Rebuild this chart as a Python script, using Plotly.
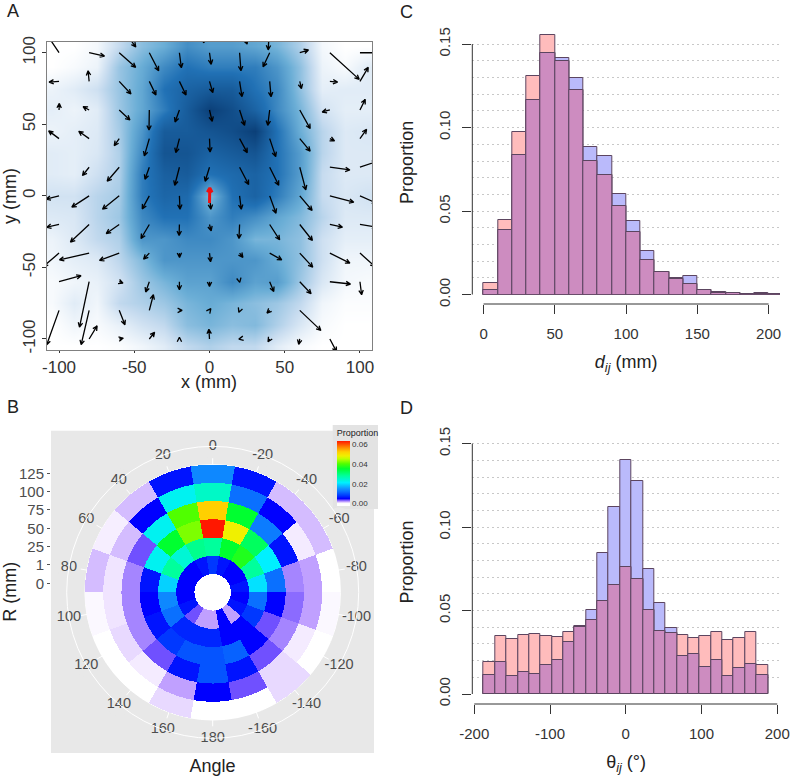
import math
import plotly.graph_objects as go

W, H = 792, 782

# ---------- Panel A data ----------
dens_x = [-105, -90, -75, -60, -45, -30, -15, 0, 15, 30, 45, 60, 75, 90, 105]
dens_y = [105, 90, 75, 60, 45, 30, 15, 0, -15, -30, -45, -60, -75, -90, -105]
dens_z = [
    [0, 0, .03, .15, .28, .35, .48, .42, .42, .38, .32, .2, .03, 0, 0],
    [0, .02, .05, .25, .36, .5, .6, .55, .55, .55, .45, .27, .05, .02, .08],
    [.05, .08, .13, .25, .38, .6, .7, .75, .75, .6, .5, .27, .07, .08, .08],
    [.07, .05, .08, .24, .38, .55, .75, .95, .85, .7, .5, .32, .12, .07, .07],
    [.05, .07, .09, .22, .45, .75, .75, .8, .85, .95, .6, .35, .18, .09, .1],
    [.08, .07, .1, .2, .5, .8, .8, .7, .75, .8, .6, .42, .18, .09, .09],
    [.08, .07, .13, .2, .55, .72, .75, .6, .65, .7, .6, .42, .15, .09, .09],
    [.12, .12, .18, .22, .55, .68, .65, .3, .6, .7, .55, .38, .15, .1, .12],
    [.09, .1, .18, .24, .5, .6, .6, .45, .55, .48, .38, .3, .18, .09, .09],
    [.05, .09, .16, .2, .45, .45, .5, .5, .45, .32, .32, .27, .13, .07, .07],
    [.04, .07, .09, .17, .3, .45, .45, .45, .45, .45, .36, .27, .13, .04, .04],
    [.02, .04, .06, .12, .24, .32, .4, .4, .5, .4, .42, .24, .1, .03, .02],
    [.02, .08, .04, .16, .2, .24, .32, .36, .32, .28, .24, .16, .04, .01, .01],
    [0, .04, .02, .06, .12, .16, .28, .32, .28, .3, .2, .1, .02, 0, 0],
    [0, 0, 0, .01, .04, .08, .16, .2, .16, .16, .08, .02, 0, 0, 0],
]

arrow_x = [-100, -80, -60, -40, -20, 0, 20, 40, 60, 80, 100]
arrow_y = [120, 100, 80, 60, 40, 20, 0, -20, -40, -60, -80, -100]
arrow_dx = [
    [0, 0, 11, 0, 0, -4, 5, -1, 0, 0, 0],
    [-7, 10.2, 10.9, 6.2, 1.3, 1.1, 0.9, -4.4, 5.8, 19.5, 13.3],
    [-6.6, -0.7, 7.8, 4.4, 4.4, 2.2, 1.6, 0.9, 1.1, 5.1, 5.5],
    [0.2, -4, 7.1, -0.2, -2.9, 1.8, 3.3, -1.3, 6.9, -5.1, 3.5],
    [-6.9, -6.9, -3.3, -3.3, -2.4, 0.4, 5.1, 4, 6.9, 3.1, 4.4],
    [0, -4.4, -8, -2.9, -3.1, -2.9, 6, 6, 4, 13.3, 11.1],
    [-8.6, -11.5, -11.1, -4.7, 0.4, 0.9, 1.1, 4.2, 8.2, 15.9, 11.1],
    [-8.2, -12.4, -8.6, -5.5, -0.2, 1.1, -0.4, 6.6, 8.4, 8.4, 11.1],
    [-10.4, -19.7, -13.1, -3.8, 0.1, 0.7, 2.2, 8, 8.6, 13.3, 10],
    [14.6, -6.4, 2.5, -2.4, 0, 0, 0.1, 2.7, 7.5, 13.7, 1.1],
    [-8.2, -5.3, 3.8, 2.7, 1.8, 0.9, -0.5, -1.8, 14, 0, 0],
    [0, 5.3, 2.7, 3.5, 0, -0.4, -0.5, -1.1, -0.7, 4.4, 0],
]
arrow_dy = [
    [0, 0, -16, 0, 0, -13, -14, -18, 0, 0, 0],
    [11, -2.3, -10.2, -12.6, -10.5, -8.1, -12.6, -9.8, 1.9, -18.6, 0],
    [-0.5, 7.4, -8.8, -9.5, -9.5, -7.9, -10.7, -10.7, -5.1, -0.5, 9.8],
    [4.6, 2.3, -7, -14, -8.4, -7.9, -10.7, -10.7, -13, -1.4, 7.4],
    [5.4, 5.1, -4.9, -12.1, -9.8, -9.3, -9.8, -12.6, -8.8, -1.6, 6.5],
    [0, -5.8, -9.8, -8.4, -12.6, -9.8, -12.1, -12.6, -15.8, -1.9, 4],
    [-2.3, -7.9, -9.3, -9.1, -9.3, -9.3, -9.3, -12.1, -10.2, -4.4, -5.1],
    [-1.9, -12.3, -6.3, -9.8, -7.7, -4.4, -9.8, -10.7, -11.2, -1.9, -1.9],
    [-9.3, -4.7, -5.1, -4.2, -3, -6, -3, -4.7, -9.8, -7, -9.3],
    [4.2, -31.7, -1, -7.2, -5.6, -3.3, -0.5, -6.8, -8.4, -1.6, -9.1],
    [-24, -24, -10, 10.9, 0, 1.2, -1.4, -1.9, -14, 0, 0],
    [0, 9.1, 0.5, 4.7, 1.2, 6.8, -0.1, -1.9, -3.7, -8.8, 0],
]
focal_x, focal_y, focal_dx, focal_dy = 0, -5, 0.2, 10.5

# ---------- Panel B data ----------
angles = [0, 20, 40, 60, 80, 100, 120, 140, 160, 180, -160, -140, -120, -100, -80, -60, -40, -20]
radial_ticks = ["0", "1", "25", "50", "75", "100", "125"]
ring1 = [.008, .006, .005, .005, .005, .005, .006, .0035, .002, .002, .005, .002, .006, .005, .006, .005, .005, .006]
ring2 = [.028, .029, .024, .028, .019, .014, .012, .007, .007, .007, .005, .005, .008, .012, .02, .028, .037, .035]
ring3 = [.063, .042, .035, .022, .006, .005, .006, .008, .010, .010, .011, .005, .0035, .005, .012, .021, .032, .048]
ring4 = [.052, .04, .022, .0035, .0025, .0025, .0025, .0035, .006, .010, .006, .0035, .0025, .003, .0025, .006, .013, .035]
ring5 = [.025, .022, .005, .0015, .0008, .0008, .001, .0006, .002, .005, .0035, .001, .0006, .002, .002, .0006, .005, .012]
ring6 = [.014, .006, .0015, .0005, .0015, .0002, 0, 0, .001, 0, 0, .001, 0, .0002, 0, .0015, .0015, .006]
rings = [ring1, ring2, ring3, ring4, ring5, ring6]

# ---------- Panel C data ----------
dist_bins = [5, 15, 25, 35, 45, 55, 65, 75, 85, 95, 105, 115, 125, 135, 145, 155, 165, 175, 185, 195, 205]
dist_red = [.007, .045, .0975, .1307, .1554, .1398, .1223, .0802, .0718, .0533, .0373, .0205, .0138, .0092, .0064, .0028, .001, .0008, .0005, .0005, .0004]
dist_blue = [.0026, .0385, .0834, .1165, .1444, .1416, .1295, .0886, .083, .06, .0443, .026, .0134, .0098, .011, .003, .0014, .0012, .0006, .0008, .0004]

# ---------- Panel D data ----------
ang_bins = [-180, -165, -150, -135, -120, -105, -90, -75, -60, -45, -30, -15, 0, 15, 30, 45, 60, 75, 90, 105, 120, 135, 150, 165, 180]
ang_red = [.0192, .0346, .0328, .0353, .0357, .035, .0344, .037, .0401, .0443, .0555, .0651, .0761, .0691, .0501, .038, .0363, .0355, .0338, .0345, .0373, .0325, .0338, .037, .0176]
ang_blue = [.0114, .0194, .011, .013, .0122, .0176, .0204, .031, .0405, .0505, .0845, .112, .14, .1278, .0747, .0547, .0393, .023, .024, .0164, .0204, .0106, .0154, .018, .0114]

FONT = "Liberation Sans"
TXT = "#333333"
AXC = "#333333"
RED = "#ffbcbc"
BLUE = "#babafb"
BOTH = "#cd8cc0"
EDGE = "#5c4560"
GRID = "#c8c8c8"
DOTS = "2px,3px"
PANEL = "#e8e8e8"


def px(x):
    return x / W


def py(y):
    return 1 - y / H


fig = go.Figure()

# ---------- A ----------
fig.add_trace(go.Heatmap(
    x=dens_x, y=dens_y, z=dens_z, zsmooth="best", showscale=False, zmin=0, zmax=1,
    colorscale=[[0, "#ffffff"], [.15, "#c6dbef"], [.35, "#6baed6"], [.6, "#2171b5"], [1, "#08386f"]],
    xaxis="x", yaxis="y", hoverinfo="skip"))

XA = (47, 372)
YA = (42, 350)
RX = (-108, 108)
RY = (-107.7, 107.5)
sx = (XA[1] - XA[0]) / (RX[1] - RX[0])
sy = (YA[1] - YA[0]) / (RY[1] - RY[0])


def arrow_path(x, y, dx, dy, head=5.0, spread=26):
    tx, ty = x + dx, y + dy
    a = math.atan2(dy * sy, dx * sx)
    xs, ys = [x, tx], [y, ty]
    for s in (1, -1):
        b = a + math.pi + s * math.radians(spread)
        xs += [tx + head * math.cos(b) / sx, tx]
        ys += [ty + head * math.sin(b) / sy, ty]
    return xs + [None], ys + [None]


ax_all, ay_all = [], []
for j, yy in enumerate(arrow_y):
    for i, xx in enumerate(arrow_x):
        if arrow_dx[j][i] == 0 and arrow_dy[j][i] == 0:
            continue
        a, b = arrow_path(xx, yy, arrow_dx[j][i], arrow_dy[j][i])
        ax_all += a
        ay_all += b
fig.add_trace(go.Scatter(x=ax_all, y=ay_all, mode="lines", line=dict(color="black", width=1.3),
                         xaxis="x", yaxis="y", hoverinfo="skip", showlegend=False))
a, b = arrow_path(focal_x, focal_y, focal_dx, focal_dy, head=5, spread=28)
fig.add_trace(go.Scatter(x=a, y=b, mode="lines", line=dict(color="#ee1111", width=3),
                         xaxis="x", yaxis="y", hoverinfo="skip", showlegend=False))


# ---------- C, D ----------
def hist(xs, red, blue, width, ax, ay):
    both = [min(r, bl) for r, bl in zip(red, blue)]
    for ys, col in ((blue, BLUE), (red, RED), (both, BOTH)):
        fig.add_trace(go.Bar(x=xs, y=ys, width=width, marker=dict(color=col, line=dict(color=EDGE, width=1)),
                             xaxis=ax, yaxis=ay, showlegend=False))


hist(dist_bins, dist_red, dist_blue, 10, "x2", "y2")
hist(ang_bins, ang_red, ang_blue, 15, "x3", "y3")

# ---------- B ----------
vals, theta, base_r = [], [], []
for k, ring in enumerate(rings):
    for t, v in zip(angles, ring):
        vals.append(v)
        theta.append(t)
        base_r.append(k)

cmin, cmax = -.0024, .0629
stops = [(-.0024, "#ffffff"), (0, "#ffffff"), (.0008, "#f0e4ff"), (.002, "#c0a0ff"), (.0035, "#7050ff"),
         (.005, "#0000ff"), (.008, "#0038ff"), (.012, "#0a70ff"), (.015, "#1094ff"), (.021, "#00f0ff"),
         (.028, "#00ff9c"), (.035, "#00ff30"), (.04, "#50ff00"), (.045, "#c0ff00"), (.048, "#f0f000"),
         (.052, "#ffd000"), (.057, "#ff8000"), (.0629, "#ff1800")]
cscale = [[(v - cmin) / (cmax - cmin), c] for v, c in stops]

fig.add_trace(go.Barpolar(
    r=[1] * len(angles), theta=angles, base=[-1] * len(angles), width=[20] * len(angles),
    marker=dict(color="white", line=dict(width=0)), subplot="polar", hoverinfo="skip", showlegend=False))
fig.add_trace(go.Barpolar(
    r=[1] * len(vals), theta=theta, base=base_r, width=[20] * len(vals),
    marker=dict(color=vals, colorscale=cscale, cmin=cmin, cmax=cmax, line=dict(width=0),
                colorbar=dict(
                    x=px(336.7), xanchor="left", xpad=0, y=py(426), yanchor="top", ypad=0,
                    lenmode="pixels", len=79.5, thickness=13, outlinewidth=0,
                    tickvals=[0, .02, .04, .06], ticktext=["0.00", "0.02", "0.04", "0.06"], ticks="",
                    tickfont=dict(family=FONT, size=8, color="#333333"),
                    title=dict(text="Proportion", side="top", font=dict(family=FONT, size=9, color="#222222")))),
    subplot="polar", showlegend=False))
fig.add_trace(go.Scatterpolar(
    r=[7] * len(angles), theta=angles, text=[str(a) for a in angles], mode="markers+text",
    textposition="middle center", marker=dict(size=24, color=PANEL),
    textfont=dict(family=FONT, size=14.5, color="#4d4d4d", shadow="none"),
    subplot="polar", hoverinfo="skip", showlegend=False))

# placeholder so that the radial label axis is drawn
fig.add_trace(go.Scatter(x=[None], y=[None], xaxis="x4", yaxis="y4", showlegend=False, hoverinfo="skip"))

axis_common = dict(showgrid=False, zeroline=False, automargin=False)
tf17 = dict(family=FONT, size=17, color=TXT)
tf15 = dict(family=FONT, size=15, color=TXT)
tt18 = dict(family=FONT, size=18, color="#222222")

cx_dom = (472.3, 780)
minor_vals = [.01, .02, .03, .04, .06, .07, .08, .09, .11, .12, .13, .14]
layout = dict(
    width=W, height=H, margin=dict(l=0, r=0, t=0, b=0), autosize=False,
    paper_bgcolor="white", plot_bgcolor="white", barmode="overlay", bargap=0,
    font=dict(family=FONT), showlegend=False,
    xaxis=dict(domain=[px(XA[0]), px(XA[1])], range=list(RX), anchor="y", side="bottom",
               tickmode="array", tickvals=[-100, -50, 0, 50, 100], ticktext=["-100", "-50", "0", "50", "100"],
               ticks="outside", ticklen=2, tickcolor=AXC, tickfont=tf17, showline=True, mirror=True,
               linecolor="#808080", linewidth=1, **axis_common),
    yaxis=dict(domain=[py(YA[1]), py(YA[0])], range=list(RY), anchor="x",
               tickmode="array", tickvals=[-100, -50, 0, 50, 100], ticktext=["-100", "-50", "0", "50", "100"],
               ticks="outside", ticklen=4, tickcolor=AXC, tickfont=tf17, tickangle=-90, showline=True, mirror=True,
               linecolor="#808080", linewidth=1, title=dict(text="y (mm)", font=tt18, standoff=1), **axis_common),
    xaxis2=dict(domain=[px(cx_dom[0]), px(cx_dom[1])], range=[-7.9, 208], anchor="free", position=py(304),
                tickmode="array", tickvals=[0, 50, 100, 150, 200], ticks="outside", ticklen=9, tickcolor=AXC,
                tickfont=tf15, ticklabelstandoff=7, showline=False,
                title=dict(text="<i>d<sub>ij</sub></i> (mm)", font=tt18, standoff=14), **axis_common),
    yaxis2=dict(domain=[py(294.7), py(30)], range=[0, .1584], anchor="x2",
                tickmode="array", tickvals=[0, .05, .10, .15], ticktext=["0.00", "0.05", "0.10", "0.15"],
                ticks="outside", ticklen=9, tickcolor=AXC, tickfont=tf15, tickangle=-90, ticklabelstandoff=6,
                showline=False, zeroline=False, automargin=False, showgrid=True, gridcolor=GRID, griddash=DOTS,
                minor=dict(tickvals=minor_vals, showgrid=True, gridcolor=GRID, griddash=DOTS, ticklen=0, gridwidth=1),
                title=dict(text="Proportion", font=tt18, standoff=17)),
    xaxis3=dict(domain=[px(cx_dom[0]), px(cx_dom[1])], range=[-202.6, 203.6], anchor="free", position=py(704),
                tickmode="array", tickvals=[-200, -100, 0, 100, 200], ticktext=["-200", "-100", "0", "100", "200"],
                ticks="outside", ticklen=9, tickcolor=AXC, tickfont=tf15, ticklabelstandoff=7, showline=False,
                title=dict(text="θ<sub><i>ij</i></sub> (°)", font=tt18, standoff=14), **axis_common),
    yaxis3=dict(domain=[py(694), py(430)], range=[0, .1582], anchor="x3",
                tickmode="array", tickvals=[0, .05, .10, .15], ticktext=["0.00", "0.05", "0.10", "0.15"],
                ticks="outside", ticklen=9, tickcolor=AXC, tickfont=tf15, tickangle=-90, ticklabelstandoff=6,
                showline=False, zeroline=False, automargin=False, showgrid=True, gridcolor=GRID, griddash=DOTS,
                minor=dict(tickvals=minor_vals, showgrid=True, gridcolor=GRID, griddash=DOTS, ticklen=0, gridwidth=1),
                title=dict(text="Proportion", font=tt18, standoff=17)),
    xaxis4=dict(domain=[px(51), px(374)], range=[0, 1], anchor="y4", showticklabels=False, ticks="",
                showline=False, title=dict(text="Angle", font=tt18, standoff=6), **axis_common),
    yaxis4=dict(domain=[py(753), py(430.7)], range=[-9.26, 8.325], anchor="x4", tickmode="array",
                tickvals=list(range(len(radial_ticks))), ticktext=radial_ticks, ticks="outside", ticklen=3,
                tickcolor="#555555", tickfont=dict(family=FONT, size=15, color="#4d4d4d", shadow="none"), showline=False,
                title=dict(text="R (mm)", font=tt18, standoff=4), **axis_common),
    polar=dict(
        domain=dict(x=[px(212.7 - 146), px(212.7 + 146)], y=[py(592.3 + 146), py(592.3 - 146)]),
        bgcolor="rgba(0,0,0,0)", bargap=0, barmode="overlay",
        radialaxis=dict(range=[-1, 7], tickvals=[0, 1, 2, 3, 4, 5, 6, 7], showticklabels=False, ticks="",
                        showline=False, gridcolor="white", gridwidth=1),
        angularaxis=dict(rotation=90, direction="counterclockwise", tickvals=[a % 360 for a in angles],
                         showticklabels=False, ticks="", showline=True, linecolor="white", linewidth=1,
                         gridcolor="white", gridwidth=1)),
    shapes=[
        dict(type="rect", xref="paper", yref="paper", x0=px(51), x1=px(374), y0=py(753), y1=py(430.7),
             fillcolor=PANEL, line=dict(width=0), layer="below"),
        dict(type="rect", xref="paper", yref="paper", x0=px(332.7), x1=px(378), y0=py(509), y1=py(425),
             fillcolor="#e3e3e3", line=dict(width=0), layer="below"),
        dict(type="line", xref="x2 domain", yref="y2", x0=0, x1=0, y0=0, y1=.15, line=dict(color=AXC, width=1)),
        dict(type="line", xref="x3 domain", yref="y3", x0=0, x1=0, y0=0, y1=.15, line=dict(color=AXC, width=1)),
        dict(type="line", xref="x2", yref="paper", x0=0, x1=200, y0=py(304), y1=py(304), line=dict(color=AXC, width=1)),
        dict(type="line", xref="x3", yref="paper", x0=-200, x1=200, y0=py(704), y1=py(704), line=dict(color=AXC, width=1)),
    ],
    annotations=[
        dict(text=t, x=px(x), y=py(y), xref="paper", yref="paper", showarrow=False,
             xanchor="center", yanchor="middle", font=dict(family=FONT, size=18, color="#222222"))
        for t, x, y in [("A", 13, 11), ("B", 13, 407), ("C", 407, 12), ("D", 407, 408), ("x (mm)", 209, 382.5)]
    ],
)
fig.update_layout(**layout)
fig.write_html("out.html", config={"displayModeBar": False},
               post_script="document.body.style.margin='0';document.body.style.overflow='hidden';")
